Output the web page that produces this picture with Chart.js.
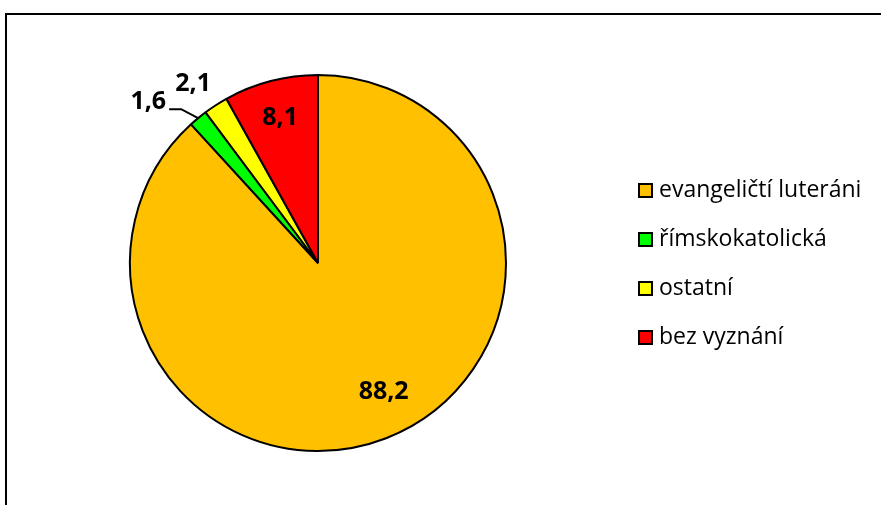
<!DOCTYPE html>
<html>
<head>
<meta charset="utf-8">
<script src="https://cdn.jsdelivr.net/npm/chart.js@4"></script>
<style>
  html, body { margin: 0; padding: 0; background: #fff; }
</style>
</head>
<body>
<canvas id="graf" width="881" height="505"></canvas>
<script>
  const kategorie = ['evangeličtí luteráni', 'římskokatolická', 'ostatní', 'bez vyznání'];
  const podily = [88.2, 1.6, 2.1, 8.1];
  const barvy = ['#FFC000', '#00FF00', '#FFFF00', '#FF0000'];

  // umisteni popisku: 'in' uvnitr vysece, 'out' vne, 'leader' vne s odkazovou carou
  const popisky = [
    { mode: 'in', k: 0.77, shift: -0.1 },
    { mode: 'leader', k: 1.0 },
    { mode: 'out', k: 1.16, shift: -0.035 },
    { mode: 'in', k: 0.8 }
  ];

  const fmt = v => v.toFixed(1).replace('.', ',');

  const ramecek = {
    id: 'ramecek',
    beforeDraw(chart) {
      const c = chart.ctx;
      c.save();
      c.fillStyle = '#fff';
      c.fillRect(0, 0, chart.width, chart.height);
      c.strokeStyle = '#000';
      c.lineWidth = 2;
      c.strokeRect(6, 14, 1000, 1000);
      c.restore();
    }
  };

  const hodnoty = {
    id: 'hodnoty',
    afterDatasetsDraw(chart) {
      const c = chart.ctx;
      const meta = chart.getDatasetMeta(0);
      c.save();
      c.font = 'bold 25px "Open Sans"';
      c.fillStyle = '#000';
      c.textBaseline = 'middle';
      meta.data.forEach((arc, i) => {
        const p = arc.getProps(['x', 'y', 'startAngle', 'endAngle', 'outerRadius'], true);
        const opt = popisky[i];
        const mid = (p.startAngle + p.endAngle) / 2 + (opt.shift || 0);
        const txt = fmt(podily[i]);
        if (opt.mode === 'leader') {
          const x0 = p.x + Math.cos(mid) * p.outerRadius;
          const y0 = p.y + Math.sin(mid) * p.outerRadius;
          const ex = x0 - 17, ey = y0 - 9;
          c.strokeStyle = '#000';
          c.lineWidth = 2;
          c.beginPath();
          c.moveTo(x0, y0);
          c.lineTo(ex, ey);
          c.lineTo(ex - 12, ey);
          c.stroke();
          c.textAlign = 'right';
          c.fillText(txt, ex - 15, ey - 7);
        } else {
          c.textAlign = 'center';
          const r = p.outerRadius * opt.k;
          c.fillText(txt, p.x + Math.cos(mid) * r, p.y + Math.sin(mid) * r);
        }
      });
      c.restore();
    }
  };

  const legenda = {
    id: 'legenda',
    afterDraw(chart) {
      const c = chart.ctx;
      c.save();
      c.font = '23px "Open Sans"';
      c.textBaseline = 'middle';
      c.textAlign = 'left';
      kategorie.forEach((k, i) => {
        const y = 190 + i * 49;
        c.fillStyle = barvy[i];
        c.fillRect(639, y - 6, 13, 13);
        c.strokeStyle = '#000';
        c.lineWidth = 2;
        c.strokeRect(639, y - 6, 13, 13);
        c.fillStyle = '#000';
        c.fillText(k, 659, y);
      });
      c.restore();
    }
  };

  new Chart(document.getElementById('graf'), {
    type: 'pie',
    data: {
      labels: kategorie,
      datasets: [{
        data: podily,
        backgroundColor: barvy,
        borderColor: '#000',
        borderWidth: 2
      }]
    },
    options: {
      responsive: false,
      animation: false,
      layout: { padding: { left: 129, right: 374, top: 74, bottom: 53 } },
      plugins: {
        legend: { display: false },
        tooltip: { enabled: false }
      }
    },
    plugins: [ramecek, hodnoty, legenda]
  });
</script>
</body>
</html>
